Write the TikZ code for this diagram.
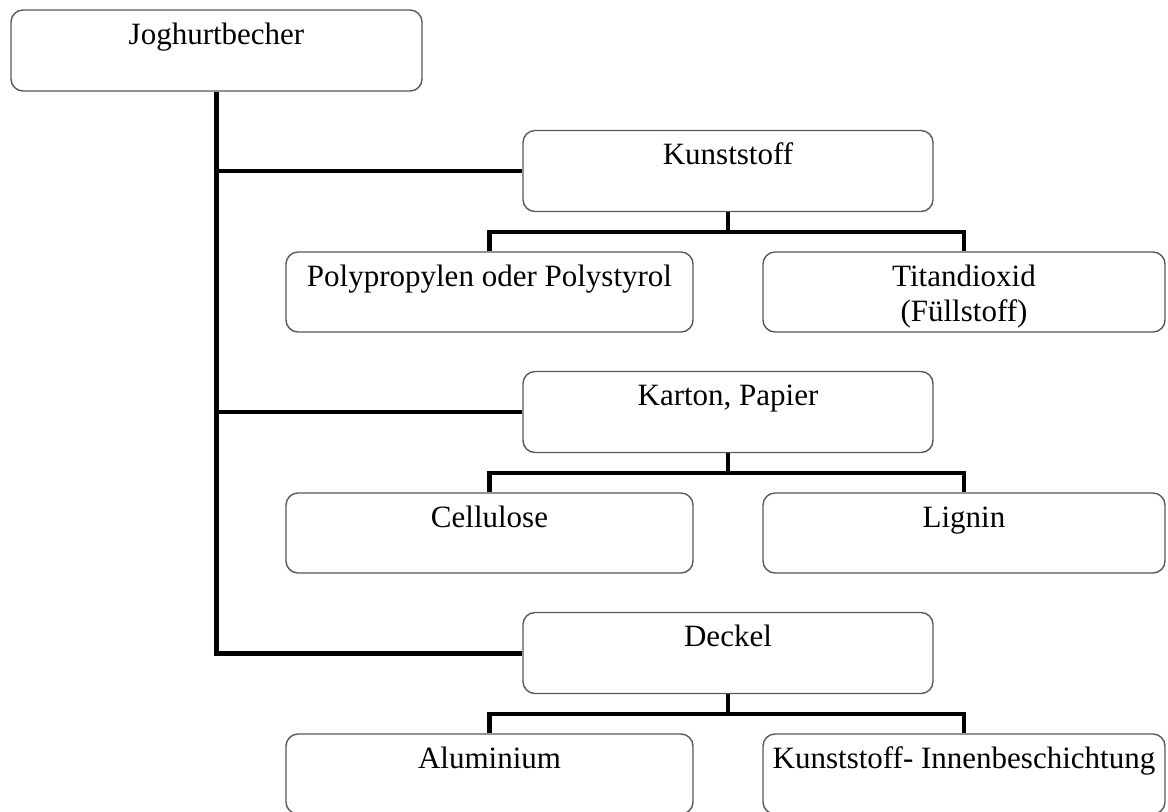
\documentclass[tikz,border=0pt]{standalone}
\usepackage{fontspec}
\setmainfont{Liberation Serif}
\usepackage{tikz}
\tikzset{box/.style={draw=black!65,line width=0.7pt,rounded corners=6pt,inner xsep=0pt,inner ysep=0pt,text height=17pt,fill=white},
  topbox/.style={box,minimum width=205.5pt,text depth=23.5pt},
  midbox/.style={box,minimum width=205pt,text depth=23.5pt},
  leftbox/.style={box,minimum width=203.5pt,text depth=23pt},
  rightbox/.style={box,minimum width=201pt,text depth=23pt},
  link/.style={line width=2.1pt},
  trunk/.style={line width=2.5pt}}

\begin{document}
\begin{tikzpicture}[x=0.5pt,y=-0.5pt,font=\fontsize{15.5}{17.5}\selectfont]
	\useasboundingbox (0,0) rectangle (1168,811);
	\clip (0,0) rectangle (1168,811);
	% root
	\node[topbox] (jb) at (216.5,50.5) {Joghurtbecher};
	% main groups
	\node[midbox] (kst) at (728,171) {Kunststoff};
	\node[midbox] (kp) at (728,412) {Karton, Papier};
	\node[midbox] (dk) at (728,653) {Deckel};
	% parts
	\node[leftbox] (pp) at (489.5,292) {Polypropylen oder Polystyrol};
	\node[rightbox] (tio) at (964,292) {\begin{tabular}[t]{@{}c@{}}Titandioxid\\(Füllstoff)\end{tabular}};
	\node[leftbox] (cel) at (489.5,533) {Cellulose};
	\node[rightbox] (lig) at (964,533) {Lignin};
	\node[leftbox] (alu) at (489.5,774) {Aluminium};
	\node[rightbox] (kib) at (964,774) {Kunststoff- Innenbeschichtung};
	% connectors
	\draw[trunk] (jb.south) |- (dk.west);
	\draw[link] (jb.south |- kst.west) -- (kst.west);
	\draw[link] (jb.south |- kp.west) -- (kp.west);
	\draw[link] (kst.south) -- ++(0,20) -| (pp.north);
	\draw[link] (kst.south) -- ++(0,20) -| (tio.north);
	\draw[link] (kp.south) -- ++(0,20) -| (cel.north);
	\draw[link] (kp.south) -- ++(0,20) -| (lig.north);
	\draw[link] (dk.south) -- ++(0,20) -| (alu.north);
	\draw[link] (dk.south) -- ++(0,20) -| (kib.north);
\end{tikzpicture}
\end{document}
